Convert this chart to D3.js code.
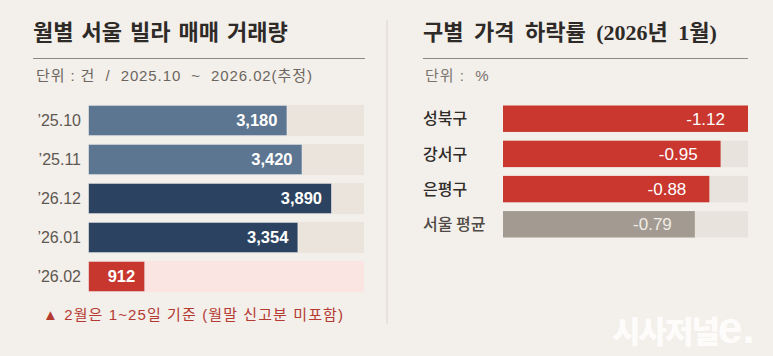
<!DOCTYPE html>
<html><head><meta charset="utf-8">
<script src="https://cdn.jsdelivr.net/npm/d3@7/dist/d3.min.js"></script>
<style>
html,body{margin:0;padding:0;background:#f3efea;}
svg{display:block;font-family:"Liberation Sans","Noto Sans CJK KR",sans-serif;}
text{white-space:pre;}
</style></head>
<body>
<svg id="c" width="773" height="356"></svg>
<script>
// ---- data ----
const months = ["’25.10", "’25.11", "’26.12", "’26.01", "’26.02"];
const volumes = [3180, 3420, 3890, 3354, 912];
const volumeGroups = ["light", "light", "dark", "dark", "partial"];

const districts = ["성북구", "강서구", "은평구", "서울 평균"];
const declines = [-1.12, -0.95, -0.88, -0.79];
const districtGroups = ["red", "red", "red", "avg"];

const leftTitle = "월별 서울 빌라 매매 거래량";
const leftUnit = "단위 : 건  /  2025.10  ~  2026.02(추정)";
const leftNote = "▲ 2월은 1~25일 기준 (월말 신고분 미포함)";
const rightTitle = "구별 가격 하락률 (2026년 1월)";
const rightUnit = "단위 :  %";

// ---- drawing ----
const svg = d3.select("#c");
svg.append("rect").attr("width", 773).attr("height", 356).attr("fill", "#f3efea");

// divider
svg.append("line").attr("x1", 387).attr("x2", 387).attr("y1", 20).attr("y2", 324)
  .attr("stroke", "#ddd6ce").attr("stroke-width", 1);

// ---------- left panel ----------
const L = svg.append("g");
L.append("text").attr("x", 33).attr("y", 40).text(leftTitle)
  .attr("font-family", "'Noto Sans CJK KR',sans-serif")
  .attr("font-size", 22).attr("font-weight", 700).attr("word-spacing", 3).attr("fill", "#2e2a27");
L.append("line").attr("x1", 33).attr("x2", 365).attr("y1", 58.5).attr("y2", 58.5)
  .attr("stroke", "#8f8983").attr("stroke-width", 1);
L.append("text").attr("x", 36).attr("y", 81).text(leftUnit)
  .attr("font-size", 15).attr("letter-spacing", 0.9).attr("fill", "#6c6660");

const xL = d3.scaleLinear().domain([0, 4400]).range([88, 364]);
const yL = d3.scaleBand().domain(months).range([101, 296]).paddingInner(0.2).paddingOuter(0.1);
const fillL = {light: "#5c7590", dark: "#2b4361", partial: "#c8372e"};
const trackL = {light: "#ebe4dc", dark: "#ebe4dc", partial: "#fbe5e3"};

const rowsL = months.map((m, i) => ({m, v: volumes[i], g: volumeGroups[i]}));
const gL = L.selectAll("g.row").data(rowsL).join("g").attr("class", "row");
gL.append("rect").attr("x", xL(0)).attr("y", d => yL(d.m))
  .attr("width", xL(4400) - xL(0)).attr("height", yL.bandwidth())
  .attr("fill", d => trackL[d.g]);
gL.append("rect").attr("x", xL(0) + 0.5).attr("y", d => yL(d.m) + 0.5)
  .attr("width", d => xL(d.v) - xL(0) - 1).attr("height", yL.bandwidth() - 1)
  .attr("fill", d => fillL[d.g]).attr("stroke", "#eef0f2").attr("stroke-opacity", 0.6).attr("stroke-width", 1);
gL.append("text").attr("x", d => xL(d.v) - 10).attr("y", d => yL(d.m) + yL.bandwidth() / 2)
  .attr("dy", "0.36em").attr("text-anchor", "end").attr("font-size", 16.5).attr("font-weight", 700)
  .attr("fill", "#ffffff").text(d => d3.format(",")(d.v));
gL.append("text").attr("x", 81).attr("y", d => yL(d.m) + yL.bandwidth() / 2)
  .attr("dy", "0.36em").attr("text-anchor", "end").attr("font-size", 16)
  .attr("fill", "#5e5852").text(d => d.m);

L.append("text").attr("x", 43).attr("y", 320).text(leftNote)
  .attr("font-size", 15).attr("letter-spacing", 1.1).attr("fill", "#b53a32");

// ---------- right panel ----------
const R = svg.append("g");
R.append("text").attr("x", 423).attr("y", 40).text(rightTitle)
  .attr("font-family", "'Liberation Serif','Noto Sans CJK KR',serif")
  .attr("font-size", 22).attr("font-weight", 700).attr("word-spacing", 5).attr("fill", "#2e2a27");
R.append("line").attr("x1", 423).attr("x2", 748).attr("y1", 58.5).attr("y2", 58.5)
  .attr("stroke", "#8f8983").attr("stroke-width", 1);
R.append("text").attr("x", 425).attr("y", 81).text(rightUnit)
  .attr("font-size", 15).attr("letter-spacing", 1).attr("fill", "#7a746e");

const xR = d3.scaleLinear().domain([-0.4, 1.12]).range([503, 748]);
const yR = d3.scaleBand().domain(districts).range([102, 241]).paddingInner(0.25).paddingOuter(0.1);
const fillR = {red: "#c9372e", avg: "#a39b91"};
const labelR = {red: "#ffffff", avg: "#efebe6"};
const nameR = {red: "#2f2b28", avg: "#4f4a45"};

const rowsR = districts.map((d, i) => ({d, v: declines[i], g: districtGroups[i]}));
const gR = R.selectAll("g.row").data(rowsR).join("g").attr("class", "row");
gR.append("rect").attr("x", xR(-0.4)).attr("y", d => yR(d.d))
  .attr("width", xR(1.12) - xR(-0.4)).attr("height", yR.bandwidth())
  .attr("fill", "#e9e3dd");
gR.append("rect").attr("x", xR(-0.4)).attr("y", d => yR(d.d))
  .attr("width", d => xR(Math.abs(d.v)) - xR(-0.4)).attr("height", yR.bandwidth())
  .attr("fill", d => fillR[d.g]);
gR.append("text").attr("x", d => xR(Math.abs(d.v)) - 23).attr("y", d => yR(d.d) + yR.bandwidth() / 2)
  .attr("dy", "0.36em").attr("text-anchor", "end").attr("font-size", 17)
  .attr("fill", d => labelR[d.g]).text(d => d.v.toFixed(2));
gR.append("text").attr("x", 423).attr("y", d => yR(d.d) + yR.bandwidth() / 2)
  .attr("dy", "0.36em").attr("font-size", 16).attr("font-weight", 500)
  .attr("font-family", "'Noto Sans CJK KR',sans-serif")
  .attr("fill", d => nameR[d.g]).text(d => d.d);

// watermark
const wm = svg.append("text").attr("x", 612).attr("y", 343).attr("fill", "#ffffff").attr("fill-opacity", 0.85)
  .attr("font-family", "'Noto Sans CJK KR',sans-serif").attr("font-weight", 900);
wm.append("tspan").attr("font-size", 31).attr("letter-spacing", -2).text("시사저널");
wm.append("tspan").attr("font-family", "'Liberation Sans',sans-serif").attr("font-weight", 700)
  .attr("font-size", 44).text("e.");
</script>
</body></html>
